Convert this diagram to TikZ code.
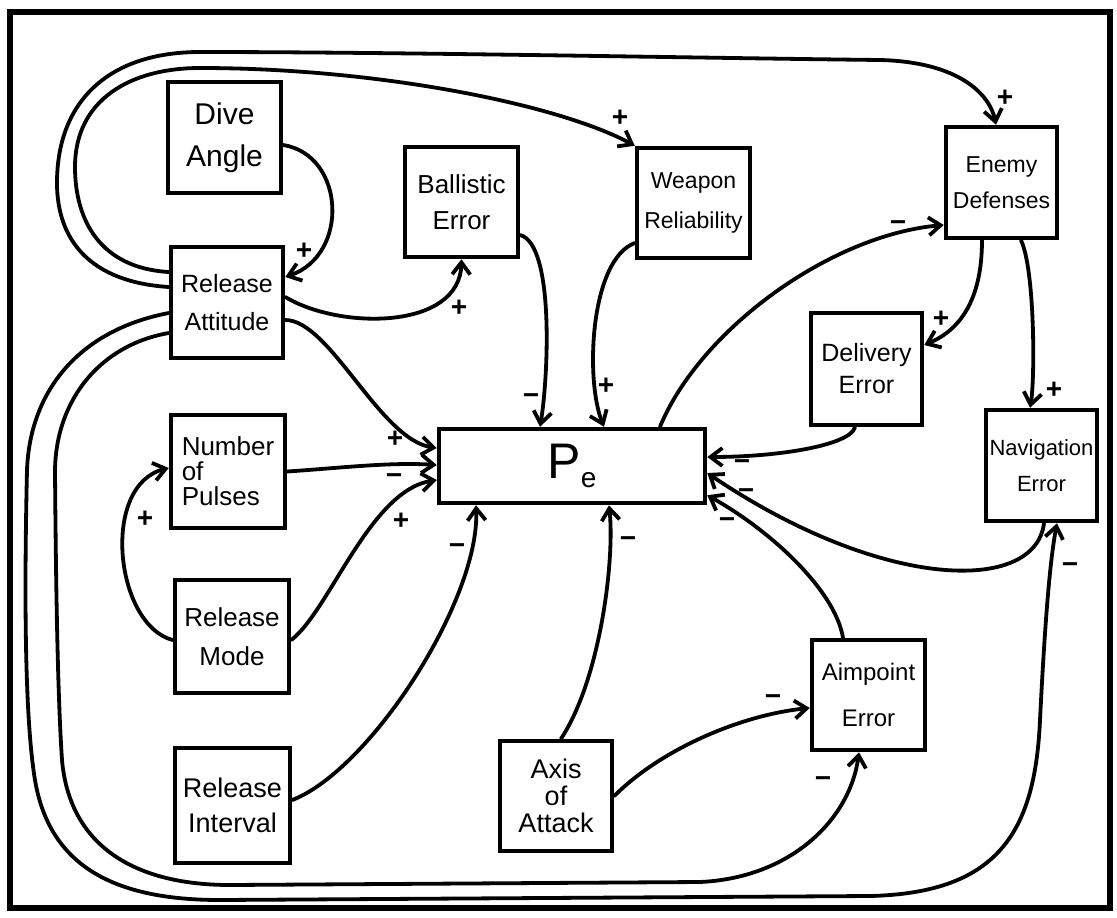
\documentclass[tikz,border=0pt]{standalone}
\usepackage{fontspec}
\setmainfont{Liberation Sans}
\usetikzlibrary{arrows.meta,calc}
\begin{document}
\begin{tikzpicture}[x=1pt,y=1pt,
  box/.style={draw,line width=4.5pt,inner sep=0pt,align=center},
  conn/.style={line width=3.8pt,-{Straight Barb[length=12pt,width=18pt]},line cap=round},
  sign/.style={font=\fontsize{28}{28}\selectfont\bfseries,inner sep=0pt,text height=18pt,text depth=0pt}]
\useasboundingbox (0,0) rectangle (1117,-918);
\draw[line width=6pt] (10,-12) rectangle (1110,-908);

% boxes
\node[box,minimum width=113pt,minimum height=111pt,font=\fontsize{30}{42}\selectfont] (da) at (224.5,-137.5) {Dive\\Angle};
\node[box,minimum width=112pt,minimum height=111pt,font=\fontsize{25}{38}\selectfont] (ra) at (227,-302.5) {Release\\Attitude};
\node[box,minimum width=113pt,minimum height=110pt,font=\fontsize{26}{36}\selectfont] (be) at (461.5,-202) {Ballistic\\Error};
\node[box,minimum width=113pt,minimum height=110pt,font=\fontsize{23}{40}\selectfont] (wr) at (693.5,-203) {Weapon\\Reliability};
\node[box,minimum width=111pt,minimum height=111pt,font=\fontsize{23}{36}\selectfont] (ed) at (1001.5,-182.5) {Enemy\\Defenses};
\node[box,minimum width=111pt,minimum height=112pt,font=\fontsize{25}{32}\selectfont] (de) at (866.5,-369) {Delivery\\Error};
\node[box,minimum width=111pt,minimum height=111pt,font=\fontsize{22}{36}\selectfont] (ne) at (1041.5,-465.5) {Navigation\\Error};
\node[box,minimum width=266pt,minimum height=74pt,font=\fontsize{50}{50}\selectfont] (pe) at (572,-466) {P\raisebox{-9pt}{\fontsize{28}{28}\selectfont e}};
\node[box,minimum width=114pt,minimum height=113pt,align=left,font=\fontsize{26}{25}\selectfont] (np) at (228,-471.5) {Number\\of\\Pulses};
\node[box,minimum width=114pt,minimum height=113pt,font=\fontsize{26}{39}\selectfont] (rm) at (232,-636.5) {Release\\Mode};
\node[box,minimum width=115pt,minimum height=115pt,font=\fontsize{27}{35}\selectfont] (ri) at (232.5,-805.5) {Release\\Interval};
\node[box,minimum width=112pt,minimum height=110pt,font=\fontsize{27}{27}\selectfont] (aa) at (556,-796) {Axis\\of\\Attack};
\node[box,minimum width=113pt,minimum height=110pt,font=\fontsize{24}{46}\selectfont] (ae) at (868.5,-695) {Aimpoint\\Error};

% connectors
\draw[conn] ([yshift=-7.5pt]da.east) .. controls (345,-155) and (350,-255) .. ([yshift=25.5pt]ra.east);
\draw[conn] ([yshift=5.5pt]ra.east) .. controls (340,-330) and (460,-330) .. (be.south);
\draw[conn] ([yshift=-17.5pt]ra.east) .. controls (330,-320) and (380,-440) .. ([yshift=18pt]pe.west);
\draw[conn] (np.east) .. controls (340,-468) and (390,-462) .. ([yshift=1pt]pe.west);
\draw[conn] ([yshift=-3.5pt]rm.east) .. controls (330,-610) and (370,-490) .. ([yshift=-14pt]pe.west);
\draw[conn] ([yshift=-3.5pt]rm.west) .. controls (115,-625) and (100,-485) .. ([yshift=3.5pt]np.west);
\draw[conn] ([yshift=5.5pt]ri.east) .. controls (370,-770) and (480,-600) .. ([xshift=-96pt]pe.south);
\draw[conn] ([yshift=-33pt]be.east) .. controls (555,-245) and (548,-380) .. ([xshift=-32pt]pe.north);
\draw[conn] ([yshift=-40pt]wr.west) .. controls (590,-260) and (585,-380) .. ([xshift=32pt]pe.north);
\draw[conn] ([xshift=88pt]pe.north) .. controls (700,-330) and (830,-235) .. ([yshift=-42.5pt]ed.west);
\draw[conn] ([xshift=-19.5pt]ed.south) .. controls (982,-300) and (960,-330) .. ([yshift=24pt]de.east);
\draw[conn] ([xshift=19.5pt]ed.south) .. controls (1035,-270) and (1035,-380) .. ([xshift=-11.5pt]ne.north);
\draw[conn] ([xshift=-11.5pt]de.south) .. controls (850,-445) and (780,-457) .. ([yshift=9pt]pe.east);
\draw[conn] ([xshift=2.5pt]ne.south) .. controls (1035,-595) and (880,-590) .. ([yshift=-7pt]pe.east);
\draw[conn] ([xshift=-25.5pt]ae.north) .. controls (835,-590) and (770,-530) .. ([yshift=10pt]pe.south east);
\draw[conn] ([xshift=5pt]aa.north) .. controls (600,-680) and (615,-560) .. ([xshift=37pt]pe.south);
\draw[conn] (aa.east) .. controls (660,-750) and (740,-715) .. ([yshift=-13pt]ae.west);
% loops
\draw[conn] ([yshift=15.5pt]ra.west) .. controls (90,-282) and (57,-240) .. (57,-183)
  .. controls (57,-100) and (110,-52) .. (200,-52)
  .. controls (400,-52) and (700,-58) .. (880,-60)
  .. controls (960,-62) and (990,-95) .. ([xshift=-5.5pt]ed.north);
\draw[conn] ([yshift=30.5pt]ra.west) .. controls (100,-268) and (75,-220) .. (75,-167)
  .. controls (75,-100) and (130,-68) .. (200,-68)
  .. controls (380,-68) and (560,-105) .. (wr.north west);
\draw[conn] ([yshift=-30.5pt]ra.west) .. controls (100,-345) and (56,-400) .. (55,-470)
  .. controls (56,-600) and (58,-700) .. (62,-760)
  .. controls (70,-850) and (140,-885) .. (230,-885)
  -- (700,-882)
  .. controls (790,-878) and (850,-820) .. ([xshift=-9.5pt]ae.south);
\draw[conn] ([yshift=-10.5pt]ra.west) .. controls (80,-330) and (30,-390) .. (27,-470)
  .. controls (24,-600) and (25,-720) .. (35,-780)
  .. controls (50,-870) and (120,-900) .. (220,-900)
  -- (870,-896)
  .. controls (1000,-893) and (1035,-830) .. (1040,-720)
  .. controls (1045,-620) and (1050,-560) .. ([xshift=15.5pt]ne.south);

% signs
\node[sign] (s1) at (304,-250) {+};
\node[sign] (s2) at (459,-307) {+};
\node[sign] (s3) at (395,-438) {+};
\node[sign] (s4) at (394,-475) {−};
\node[sign] (s5) at (401,-520) {+};
\node[sign] (s6) at (145,-518) {+};
\node[sign] (s7) at (457,-545) {−};
\node[sign] (s8) at (531,-395) {−};
\node[sign] (s9) at (606,-385) {+};
\node[sign] (s10) at (898,-222) {−};
\node[sign] (s11) at (941,-318) {+};
\node[sign] (s12) at (1054,-389) {+};
\node[sign] (s13) at (742,-461) {−};
\node[sign] (s14) at (746,-490) {−};
\node[sign] (s15) at (727,-519) {−};
\node[sign] (s16) at (628,-538) {−};
\node[sign] (s17) at (773,-696) {−};
\node[sign] (s18) at (1005,-97) {+};
\node[sign] (s19) at (620,-117) {+};
\node[sign] (s20) at (823,-778) {−};
\node[sign] (s21) at (1070,-564) {−};
\end{tikzpicture}
\end{document}
